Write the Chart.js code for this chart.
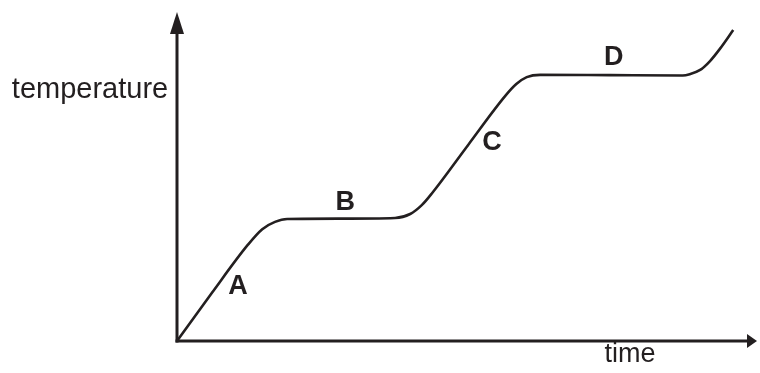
<!DOCTYPE html>
<html>
<head>
<meta charset="utf-8">
<script src="https://cdn.jsdelivr.net/npm/chart.js@4.4.1/dist/chart.umd.min.js"></script>
<style>
  body { margin: 0; background: #fff; }
  #wrap { width: 760px; height: 373px; }
</style>
</head>
<body>
<div id="wrap"><canvas id="myC" width="760" height="373"></canvas></div>
<script>
// heating curve (arbitrary units 0-100)
const time = [0, 6.0, 12.2, 14.7, 16.9, 19.0, 28.1, 37.6, 40.2, 42.2, 44.0, 50.2, 56.6, 58.5, 60.3, 62.6, 74.7, 87.2, 88.4, 90.2, 91.9, 93.6, 95.9];
const temperature = [0, 14.6, 29.2, 34.0, 36.2, 37.1, 37.2, 37.4, 38.6, 41.3, 45.0, 59.6, 74.5, 78.1, 80.2, 80.9, 80.8, 80.7, 81.1, 82.4, 85.1, 88.8, 94.5];

const stageNames = ['A', 'B', 'C', 'D'];
const stageTime = [10.5, 29.0, 54.3, 75.3];
const stageTemp = [16.7, 42.2, 60.2, 86.3];

const ink = '#231f20';
const ctx = document.querySelector('#myC').getContext('2d');

const axesPlugin = {
  id: 'axes',
  afterDraw(chart) {
    const c = chart.ctx;
    const xs = chart.scales.x, ys = chart.scales.y;
    const x0 = xs.getPixelForValue(0), y0 = ys.getPixelForValue(0);
    const xEnd = xs.getPixelForValue(100), yEnd = ys.getPixelForValue(100);
    c.save();
    c.strokeStyle = ink;
    c.fillStyle = ink;
    c.lineWidth = 3;
    c.lineCap = 'butt';
    // y axis
    c.beginPath();
    c.moveTo(x0, y0 + 1.5);
    c.lineTo(x0, yEnd + 20);
    c.stroke();
    c.beginPath();
    c.moveTo(x0, yEnd);
    c.lineTo(x0 - 7, yEnd + 22);
    c.lineTo(x0 + 7, yEnd + 22);
    c.closePath();
    c.fill();
    // x axis
    c.beginPath();
    c.moveTo(x0 - 1.5, y0);
    c.lineTo(xEnd - 8, y0);
    c.stroke();
    c.beginPath();
    c.moveTo(xEnd, y0);
    c.lineTo(xEnd - 10, y0 - 7);
    c.lineTo(xEnd - 10, y0 + 7);
    c.closePath();
    c.fill();

    // axis titles
    c.textBaseline = 'alphabetic';
    c.textAlign = 'center';
    c.font = '29px "Liberation Sans", Arial, sans-serif';
    c.fillText('temperature', 90, 98);
    c.font = '27px "Liberation Sans", Arial, sans-serif';
    c.fillText('time', 630, 362);

    // stage letters
    c.font = 'bold 27px "Liberation Sans", Arial, sans-serif';
    c.textBaseline = 'middle';
    stageNames.forEach((s, i) => {
      c.fillText(s, xs.getPixelForValue(stageTime[i]), ys.getPixelForValue(stageTemp[i]));
    });
    c.restore();
  }
};

new Chart(ctx, {
  type: 'line',
  data: {
    datasets: [{
      data: time.map((t, i) => ({ x: t, y: temperature[i] })),
      borderColor: ink,
      borderWidth: 2.6,
      pointRadius: 0,
      fill: false,
      cubicInterpolationMode: 'monotone',
      clip: false
    }]
  },
  options: {
    responsive: false,
    animation: false,
    layout: { padding: { left: 177, right: 3, top: 12, bottom: 32 } },
    scales: {
      x: { type: 'linear', min: 0, max: 100, display: false },
      y: { min: 0, max: 100, display: false }
    },
    plugins: {
      legend: { display: false },
      tooltip: { enabled: false }
    }
  },
  plugins: [axesPlugin]
});
</script>
</body>
</html>
